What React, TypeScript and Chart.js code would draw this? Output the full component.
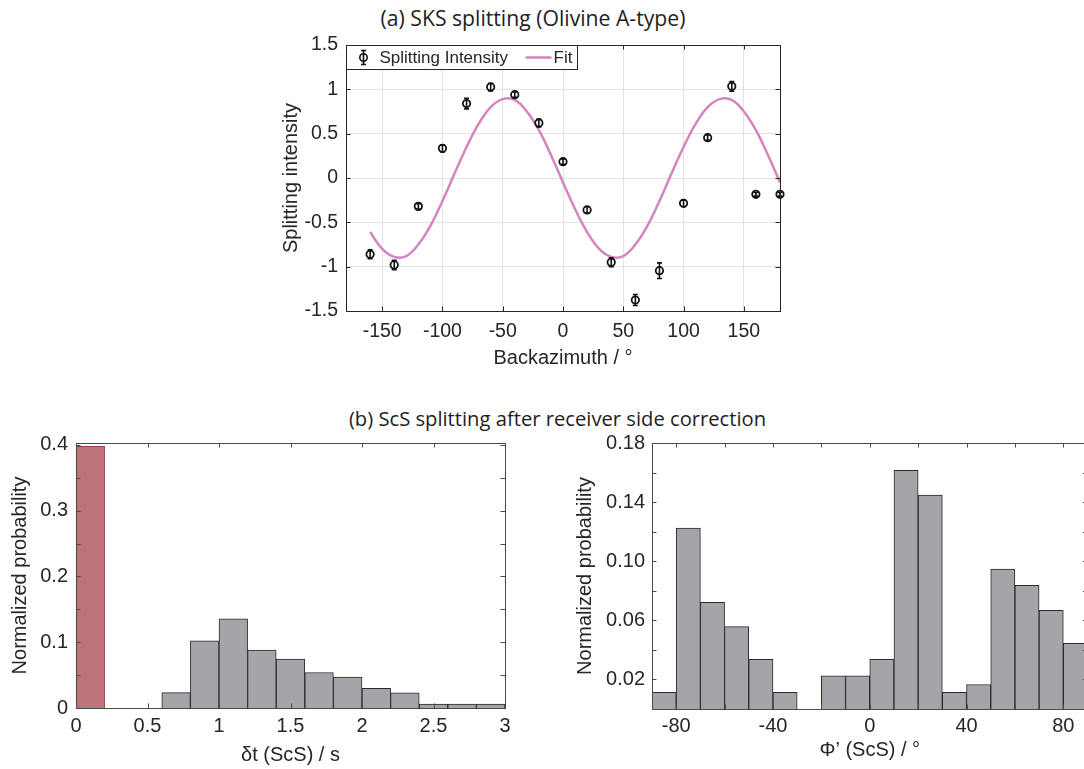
import React, { useEffect, useRef } from "react";
import { Chart, registerables } from "chart.js";

Chart.register(...registerables);

const FONT = '"Liberation Sans", Arial, Helvetica, sans-serif';
const TITLE_FONT = '"Open Sans", "Noto Sans", sans-serif';
const INK = "#262626";

// ---------- (a) SKS splitting ----------
const BAZ = [-160, -140, -120, -100, -80, -60, -40, -20, 0, 20, 40, 60, 80, 100, 120, 140, 160, 180];
const SPLIT_INT = [-0.86, -0.98, -0.32, 0.335, 0.84, 1.026, 0.94, 0.62, 0.184, -0.36, -0.95, -1.376, -1.045, -0.286, 0.455, 1.034, -0.184, -0.184];
const SPLIT_ERR = [0.05, 0.053, 0.03, 0.04, 0.06, 0.043, 0.03, 0.045, 0.03, 0.035, 0.05, 0.062, 0.088, 0.035, 0.03, 0.055, 0.02, 0.02];
const FIT_BAZ = [-160, -150, -140, -130, -120, -110, -100, -90, -80, -70, -60, -50, -40, -30, -20, -10, 0, 10, 20, 30, 40, 50, 60, 70, 80, 90, 100, 110, 120, 130, 140, 150, 160, 170, 180];
const FIT_VAL = [-0.61, -0.8, -0.89, -0.88, -0.75, -0.54, -0.26, 0.05, 0.35, 0.61, 0.8, 0.89, 0.88, 0.75, 0.54, 0.26, -0.05, -0.35, -0.61, -0.8, -0.89, -0.88, -0.75, -0.54, -0.26, 0.05, 0.35, 0.61, 0.8, 0.89, 0.88, 0.75, 0.54, 0.26, -0.05];
const A_X_TICKS = [-150, -100, -50, 0, 50, 100, 150];
const A_Y_TICKS = [-1.5, -1, -0.5, 0, 0.5, 1, 1.5];

// ---------- (b) left: delay time ----------
const DT_BINS = [0.1, 0.3, 0.5, 0.7, 0.9, 1.1, 1.3, 1.5, 1.7, 1.9, 2.1, 2.3, 2.5, 2.7, 2.9];
const DT_PROB = [0.398, 0, 0, 0.0233, 0.102, 0.1357, 0.088, 0.0744, 0.054, 0.047, 0.03, 0.023, 0.006, 0.006, 0.006];
const DT_X_TICKS = [0, 0.5, 1, 1.5, 2, 2.5, 3];
const DT_Y_TICKS = [0, 0.05, 0.1, 0.15, 0.2, 0.25, 0.3, 0.35, 0.4];
const DT_Y_LABELS = [0, 0.1, 0.2, 0.3, 0.4];

// ---------- (b) right: fast axis ----------
const PHI_BINS = [-85, -75, -65, -55, -45, -35, -25, -15, -5, 5, 15, 25, 35, 45, 55, 65, 75, 85];
const PHI_PROB = [0.0112, 0.1224, 0.0722, 0.0557, 0.0336, 0.0112, 0, 0.0225, 0.0225, 0.0336, 0.1615, 0.1448, 0.0112, 0.0166, 0.0946, 0.0837, 0.0668, 0.0444];
const PHI_X_TICKS = [-80, -60, -40, -20, 0, 20, 40, 60, 80];
const PHI_X_LABELS = [-80, -40, 0, 40, 80];
const PHI_Y_TICKS = [0, 0.02, 0.04, 0.06, 0.08, 0.1, 0.12, 0.14, 0.16, 0.18];
const PHI_Y_LABELS = [0.02, 0.06, 0.1, 0.14, 0.18];

const hasVal = (arr: number[], v: number) => arr.some((a) => Math.abs(a - v) < 1e-9);

const boxTicksPlugin = {
  id: "boxTicks",
  afterDatasetsDraw(chart: any, _args: any, opts: any) {
    const { ctx, chartArea: a, scales } = chart;
    const len = opts.len ?? 4.5;
    ctx.save();
    ctx.strokeStyle = opts.color || INK;
    ctx.lineWidth = 1;
    ctx.beginPath();
    for (const t of scales.x.ticks) {
      const px = Math.round(scales.x.getPixelForValue(t.value)) + 0.5;
      ctx.moveTo(px, a.bottom);
      ctx.lineTo(px, a.bottom - len);
      ctx.moveTo(px, a.top);
      ctx.lineTo(px, a.top + len);
    }
    for (const t of scales.y.ticks) {
      const py = Math.round(scales.y.getPixelForValue(t.value)) + 0.5;
      ctx.moveTo(a.left, py);
      ctx.lineTo(a.left + len, py);
      ctx.moveTo(a.right, py);
      ctx.lineTo(a.right - len, py);
    }
    ctx.stroke();
    ctx.strokeRect(Math.round(a.left) + 0.5, Math.round(a.top) + 0.5, Math.round(a.right - a.left), Math.round(a.bottom - a.top));
    ctx.restore();
  },
};

const errorBarPlugin = {
  id: "errorBars",
  afterDatasetsDraw(chart: any) {
    const { ctx, scales } = chart;
    chart.data.datasets.forEach((ds: any, di: number) => {
      if (!ds.errors) return;
      if (!chart.isDatasetVisible(di)) return;
      ctx.save();
      ctx.strokeStyle = "#111";
      ctx.lineWidth = 1.6;
      ds.data.forEach((p: any, i: number) => {
        const e = ds.errors[i];
        const x = scales.x.getPixelForValue(p.x);
        const y1 = scales.y.getPixelForValue(p.y - e);
        const y2 = scales.y.getPixelForValue(p.y + e);
        ctx.beginPath();
        ctx.moveTo(x, y1);
        ctx.lineTo(x, y2);
        ctx.moveTo(x - 2.5, y1);
        ctx.lineTo(x + 2.5, y1);
        ctx.moveTo(x - 2.5, y2);
        ctx.lineTo(x + 2.5, y2);
        ctx.stroke();
      });
      ctx.restore();
    });
  },
};

const legendPlugin = {
  id: "insideLegend",
  afterDraw(chart: any) {
    const { ctx, chartArea: a } = chart;
    const x0 = Math.round(a.left) + 0.5;
    const y0 = Math.round(a.top) + 0.5;
    const w = 231;
    const h = 24;
    const cy = y0 + 12;
    ctx.save();
    ctx.fillStyle = "#fff";
    ctx.fillRect(x0, y0, w, h);
    ctx.strokeStyle = INK;
    ctx.lineWidth = 1;
    ctx.strokeRect(x0, y0, w, h);
    const mx = x0 + 17;
    ctx.strokeStyle = "#111";
    ctx.lineWidth = 1.6;
    ctx.beginPath();
    ctx.moveTo(mx, cy - 7);
    ctx.lineTo(mx, cy + 7);
    ctx.moveTo(mx - 2.5, cy - 7);
    ctx.lineTo(mx + 2.5, cy - 7);
    ctx.moveTo(mx - 2.5, cy + 7);
    ctx.lineTo(mx + 2.5, cy + 7);
    ctx.stroke();
    ctx.beginPath();
    ctx.arc(mx, cy, 3.7, 0, Math.PI * 2);
    ctx.stroke();
    ctx.fillStyle = INK;
    ctx.font = `17px ${FONT}`;
    ctx.textBaseline = "middle";
    ctx.textAlign = "left";
    ctx.fillText("Splitting Intensity", x0 + 33, cy + 1);
    ctx.strokeStyle = "#D484BF";
    ctx.lineWidth = 2.5;
    ctx.beginPath();
    ctx.moveTo(x0 + 179, cy);
    ctx.lineTo(x0 + 205, cy);
    ctx.stroke();
    ctx.fillText("Fit", x0 + 207, cy + 1);
    ctx.restore();
  },
};

function ChartBox(props: { left: number; top: number; width: number; height: number; config: any }) {
  const ref = useRef<HTMLCanvasElement | null>(null);
  useEffect(() => {
    if (!ref.current) return;
    const chart = new Chart(ref.current, props.config);
    return () => chart.destroy();
  }, []);
  return (
    <div style={{ position: "absolute", left: props.left, top: props.top, width: props.width, height: props.height }}>
      <canvas ref={ref} style={{ display: "block" }} />
    </div>
  );
}

function tickFont(size: number) {
  return { family: FONT, size };
}

const configA = {
  type: "line",
  data: {
    datasets: [
      {
        label: "Splitting Intensity",
        data: BAZ.map((x, i) => ({ x, y: SPLIT_INT[i] })),
        errors: SPLIT_ERR,
        showLine: false,
        pointRadius: 3.7,
        pointBorderWidth: 1.8,
        pointBorderColor: "#111",
        pointBackgroundColor: "rgba(0,0,0,0)",
        clip: false,
        order: 0,
      },
      {
        label: "Fit",
        data: FIT_BAZ.map((x, i) => ({ x, y: FIT_VAL[i] })),
        borderColor: "#D484BF",
        borderWidth: 2.5,
        pointRadius: 0,
        tension: 0.4,
        order: 1,
      },
    ],
  },
  options: {
    animation: false,
    responsive: true,
    maintainAspectRatio: false,
    layout: { padding: { left: 0, right: 20, top: 25, bottom: 0 } },
    plugins: {
      legend: { display: false },
      tooltip: { enabled: false },
      boxTicks: { len: 4.5, color: INK },
    },
    scales: {
      x: {
        type: "linear",
        min: -180,
        max: 180,
        afterBuildTicks: (s: any) => {
          s.ticks = A_X_TICKS.map((v) => ({ value: v }));
        },
        afterFit: (s: any) => {
          s.height = 69;
        },
        grid: { color: "#e3e3e3", lineWidth: 1, drawTicks: false },
        border: { display: false },
        ticks: { font: tickFont(19.5), color: INK, padding: 9, maxRotation: 0, callback: (v: any) => String(v) },
        title: { display: true, text: "Backazimuth / °", font: tickFont(20), color: INK, padding: { top: 0, bottom: 10 } },
      },
      y: {
        type: "linear",
        min: -1.5,
        max: 1.5,
        afterBuildTicks: (s: any) => {
          s.ticks = A_Y_TICKS.map((v) => ({ value: v }));
        },
        afterFit: (s: any) => {
          s.width = 106;
        },
        grid: { color: "#e3e3e3", lineWidth: 1, drawTicks: false },
        border: { display: false },
        ticks: { font: tickFont(19.5), color: INK, padding: 8, callback: (v: any) => String(v) },
        title: { display: true, text: "Splitting intensity", font: tickFont(20), color: INK, padding: { top: 39, bottom: 0 } },
      },
    },
  },
  plugins: [errorBarPlugin, boxTicksPlugin, legendPlugin],
};

const configDT = {
  type: "bar",
  data: {
    datasets: [
      {
        label: "δt",
        data: DT_BINS.map((x, i) => ({ x, y: DT_PROB[i] })),
        backgroundColor: DT_BINS.map((_, i) => (i === 0 ? "#BE737A" : "#A4A5A9")),
        borderColor: DT_BINS.map((_, i) => (i === 0 ? "#8E3B42" : "#2A2A2A")),
        borderWidth: 1,
        borderSkipped: "bottom",
        barPercentage: 1,
        categoryPercentage: 1,
      },
    ],
  },
  options: {
    animation: false,
    responsive: true,
    maintainAspectRatio: false,
    layout: { padding: { left: 0, right: 15, top: 28, bottom: 0 } },
    plugins: {
      legend: { display: false },
      tooltip: { enabled: false },
      boxTicks: { len: 4.5, color: "#4a4a4a" },
    },
    scales: {
      x: {
        type: "linear",
        min: 0,
        max: 3,
        offset: false,
        afterBuildTicks: (s: any) => {
          s.ticks = DT_X_TICKS.map((v) => ({ value: v }));
        },
        afterFit: (s: any) => {
          s.height = 61;
        },
        grid: { display: false, drawTicks: false },
        border: { display: false },
        ticks: { font: tickFont(20), color: INK, padding: 6, maxRotation: 0, autoSkip: false, callback: (v: any) => String(v) },
        title: { display: true, text: "δt (ScS) / s", font: tickFont(20), color: INK, padding: { top: 0, bottom: 2 } },
      },
      y: {
        type: "linear",
        min: 0,
        max: 0.403,
        afterBuildTicks: (s: any) => {
          s.ticks = DT_Y_TICKS.map((v) => ({ value: v }));
        },
        afterFit: (s: any) => {
          s.width = 76;
        },
        grid: { display: false, drawTicks: false },
        border: { display: false },
        ticks: {
          font: tickFont(20),
          color: INK,
          padding: 8,
          autoSkip: false,
          callback: (v: any) => (hasVal(DT_Y_LABELS, v) ? String(Math.round(v * 10) / 10) : ""),
        },
        title: { display: true, text: "Normalized probability", font: tickFont(20), color: INK, padding: { top: 8, bottom: 0 } },
      },
    },
  },
  plugins: [boxTicksPlugin],
};

const configPHI = {
  type: "bar",
  data: {
    datasets: [
      {
        label: "Φ'",
        data: PHI_BINS.map((x, i) => ({ x, y: PHI_PROB[i] })),
        backgroundColor: "#A4A5A9",
        borderColor: "#2A2A2A",
        borderWidth: 1,
        borderSkipped: "bottom",
        barPercentage: 1,
        categoryPercentage: 1,
      },
    ],
  },
  options: {
    animation: false,
    responsive: true,
    maintainAspectRatio: false,
    layout: { padding: { left: 0, right: 12.5, top: 28, bottom: 0 } },
    plugins: {
      legend: { display: false },
      tooltip: { enabled: false },
      boxTicks: { len: 4.5, color: "#4a4a4a" },
    },
    scales: {
      x: {
        type: "linear",
        min: -90,
        max: 90,
        offset: false,
        afterBuildTicks: (s: any) => {
          s.ticks = PHI_X_TICKS.map((v) => ({ value: v }));
        },
        afterFit: (s: any) => {
          s.height = 60;
        },
        grid: { display: false, drawTicks: false },
        border: { display: false },
        ticks: {
          font: tickFont(20),
          color: INK,
          padding: 5,
          maxRotation: 0,
          autoSkip: false,
          callback: (v: any) => (hasVal(PHI_X_LABELS, v) ? String(v) : ""),
        },
        title: { display: true, text: "Φ’ (ScS) / °", font: tickFont(20), color: INK, padding: { top: 0, bottom: 7 } },
      },
      y: {
        type: "linear",
        min: 0,
        max: 0.18,
        afterBuildTicks: (s: any) => {
          s.ticks = PHI_Y_TICKS.map((v) => ({ value: v }));
        },
        afterFit: (s: any) => {
          s.width = 82;
        },
        grid: { display: false, drawTicks: false },
        border: { display: false },
        ticks: {
          font: tickFont(20),
          color: INK,
          padding: 7,
          autoSkip: false,
          callback: (v: any) => (hasVal(PHI_Y_LABELS, v) ? Number(v).toFixed(2) : ""),
        },
        title: { display: true, text: "Normalized probability", font: tickFont(20), color: INK, padding: { top: 3.5, bottom: 0 } },
      },
    },
  },
  plugins: [boxTicksPlugin],
};

export default function App() {
  const titleStyle: React.CSSProperties = {
    position: "absolute",
    width: 600,
    textAlign: "center",
    fontFamily: TITLE_FONT,
    lineHeight: "24px",
    color: "#1e1e1e",
    whiteSpace: "nowrap",
  };
  return (
    <div style={{ position: "absolute", left: 0, top: 0, width: 1084, height: 769, overflow: "hidden", background: "#fff" }}>
      <div style={{ ...titleStyle, fontSize: 21.2, left: 533 - 300, top: 6 }}>(a) SKS splitting (Olivine A-type)</div>
      <div style={{ ...titleStyle, fontSize: 20.2, left: 557.5 - 300, top: 406 }}>(b) ScS splitting after receiver side correction</div>
      <ChartBox left={240} top={20} width={560} height={360} config={configA} />
      <ChartBox left={0} top={415} width={520} height={354} config={configDT} />
      <ChartBox left={570} top={415} width={530} height={354} config={configPHI} />
    </div>
  );
}
